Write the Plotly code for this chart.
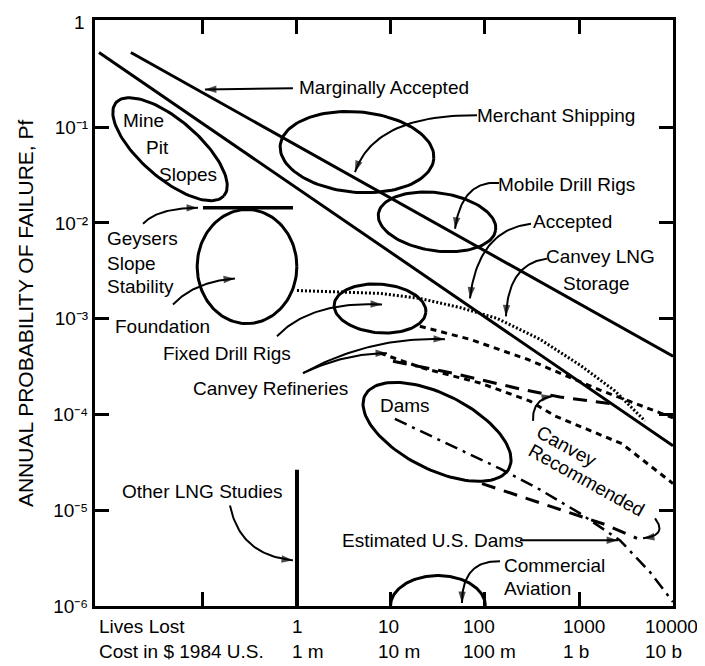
import numpy as np
import plotly.graph_objects as go

# ---------------- data (lives lost, annual probability of failure) ----------------
marginal_x = [0.0171, 10000]
marginal_y = [0.603, 4.06e-4]
accepted_x = [0.00783, 10000]
accepted_y = [0.603, 4.72e-5]
geysers_x = [0.1, 0.906]
geysers_y = [0.0144, 0.0144]
other_lng_x = [1, 1]
other_lng_y = [1e-6, 2.65e-5]
lng_storage_x = [1, 7.64, 20.3, 54.2, 134, 385, 1025, 2415, 5036]
lng_storage_y = [1.97e-3, 1.84e-3, 1.63e-3, 1.31e-3, 1.01e-3, 6.1e-4, 3.28e-4, 1.76e-4, 8.57e-5]
refineries_upper_x = [20.3, 69.2, 280, 1672, 10000]
refineries_upper_y = [8.34e-4, 6.1e-4, 3.78e-4, 1.80e-4, 9.23e-5]
refineries_lower_x = [7.64, 21.9, 88.5, 301, 556, 2866, 10000]
refineries_lower_y = [4.37e-4, 3.05e-4, 2.13e-4, 1.38e-4, 9.66e-5, 4.94e-5, 1.90e-5]
recommended_upper_x = [10.5, 50.4, 235.6, 628, 2300]
recommended_upper_y = [3.60e-4, 2.64e-4, 1.85e-4, 1.52e-4, 1.29e-4]
recommended_lower_x = [92.9, 280, 802, 1891, 4140]
recommended_lower_y = [1.90e-5, 1.33e-5, 9.49e-6, 7.11e-6, 5.09e-6]
us_dams_x = [11.0, 42.4, 144.5, 385, 1025, 2730, 5690, 10000]
us_dams_y = [8.99e-5, 4.83e-5, 2.72e-5, 1.64e-5, 9.27e-6, 4.85e-6, 2.26e-6, 1.10e-6]

# regions: centre (lives, probability), semi-axes (decades), tilt (deg), half?
region_names = ["Mine Pit Slopes", "Foundation", "Merchant Shipping", "Mobile Drill Rigs",
                "Fixed Drill Rigs", "Dams", "Commercial Aviation"]
region_cx = [0.0446, 0.294, 4.35, 30.9, 7.64, 30.9, 31.6]
region_cy = [0.0590, 3.51e-3, 0.0550, 0.01028, 1.28e-3, 6.59e-5, 1e-6]
region_a = [0.76, 0.53, 0.82, 0.63, 0.49, 0.86, 0.505]
region_b = [0.31, 0.61, 0.43, 0.31, 0.26, 0.40, 0.326]
region_angle = [-41, 0, -5, -8, -5, -27, 0]
region_half = [False, False, False, False, False, False, True]

x_tick_vals = [0.1, 1, 10, 100, 1000, 10000]
x_tick_lives = ["", "1", "10", "100", "1000", "10000"]
x_tick_cost = ["", "1 m", "10 m", "100 m", "1 b", "10 b"]
x_label_shift = [0, -7, -15, -24, -18, -30]
y_tick_vals = [1e-6, 1e-5, 1e-4, 1e-3, 1e-2, 1e-1]
y_tick_text = ["10⁻⁶", "10⁻⁵", "10⁻⁴", "10⁻³", "10⁻²", "10⁻¹"]

# ---------------- layout constants ----------------
# page body has an 8px margin, so the figure is sized/placed to compensate
W, H = 697, 658
ML, MR, MT, MB = 87, 32, 9, 60
XR = [np.log10(0.0071), 4.0]
YR = [-6.0, 0.12]
PXX = (W - ML - MR) / (XR[1] - XR[0])
PXY = (H - MT - MB) / (YR[1] - YR[0])

FN = "Liberation Sans Narrow, Arial Narrow, Liberation Sans, Arial, sans-serif"
FT = "Liberation Sans, Arial, sans-serif"
FS = 19

fig = go.Figure()


def line(x, y, width=3, dash="solid"):
    fig.add_trace(go.Scatter(x=x, y=y, mode="lines", hoverinfo="skip", showlegend=False,
                             line=dict(color="black", width=width, dash=dash)))


line(marginal_x, marginal_y, 3)
line(accepted_x, accepted_y, 3)
line(geysers_x, geysers_y, 3.5)
line(other_lng_x, other_lng_y, 4)
line(lng_storage_x, lng_storage_y, 3, "2px,2px")
line(refineries_upper_x, refineries_upper_y, 3, "6px,5px")
line(refineries_lower_x, refineries_lower_y, 3, "6px,5px")
line(recommended_upper_x, recommended_upper_y, 3, "14px,9px")
line(recommended_lower_x, recommended_lower_y, 3, "14px,9px")
line(us_dams_x, us_dams_y, 2.5, "13px,6px,3px,6px")

for cx, cy, a, b, ang, half in zip(region_cx, region_cy, region_a, region_b,
                                   region_angle, region_half):
    t = np.linspace(0, np.pi if half else 2 * np.pi, 120)
    th = np.radians(ang)
    dx = a * np.cos(t) * np.cos(th) - b * np.sin(t) * np.sin(th)
    dy = (a * np.cos(t) * np.sin(th) + b * np.sin(t) * np.cos(th)) * PXX / PXY
    line(10 ** (np.log10(cx) + dx), 10 ** (np.log10(cy) + dy), 3)

# ---------------- curved arrows (log coords: tail, control, head) ----------------
arrows = [
    ((-0.043, -0.594), (-0.5, -0.60), (-0.979, -0.605)),
    ((1.915, -0.875), (0.830, -0.865), (0.617, -1.468)),
    ((2.149, -1.582), (1.755, -1.551), (1.681, -2.060)),
    ((2.489, -2.008), (1.926, -2.071), (1.840, -2.788)),
    ((2.660, -2.372), (2.245, -2.424), (2.223, -2.975)),
    ((-1.638, -2.008), (-1.479, -1.842), (-1.053, -1.842)),
    ((-1.319, -2.850), (-1.085, -2.611), (-0.660, -2.580)),
    ((-0.213, -3.183), (0.138, -2.819), (0.904, -2.850)),
    ((0.064, -3.568), (0.511, -3.360), (0.957, -3.360)),
    ((0.064, -3.568), (0.777, -3.183), (1.574, -3.214)),
    ((-0.713, -4.950), (-0.606, -5.470), (-0.043, -5.522)),
    ((2.160, -5.532), (1.755, -5.522), (1.755, -5.969)),
    ((2.511, -4.067), (2.500, -3.838), (2.723, -3.807)),
    ((3.809, -5.085), (3.947, -5.262), (3.681, -5.293)),
    ((2.372, -5.314), (2.9, -5.314), (3.415, -5.314)),
]
for p0, p1, p2 in arrows:
    t = np.linspace(0, 1, 40)
    bx = 10 ** ((1 - t) ** 2 * p0[0] + 2 * (1 - t) * t * p1[0] + t ** 2 * p2[0])
    by = 10 ** ((1 - t) ** 2 * p0[1] + 2 * (1 - t) * t * p1[1] + t ** 2 * p2[1])
    line(bx, by, 2)
    fig.add_trace(go.Scatter(x=bx[-3:], y=by[-3:], mode="markers", hoverinfo="skip",
                             showlegend=False,
                             marker=dict(symbol="arrow", size=[0, 0, 12], color="black",
                                         angleref="previous", line=dict(width=0))))

# ---------------- labels ----------------
labels = [
    ("Marginally Accepted", 0.926, -0.584, "center", 0),
    ("Merchant Shipping", 2.755, -0.875, "center", 0),
    ("Mobile Drill Rigs", 2.862, -1.593, "center", 0),
    ("Accepted", 2.926, -1.988, "center", 0),
    ("Canvey LNG", 3.234, -2.351, "center", 0),
    ("Storage", 3.181, -2.632, "center", 0),
    ("Mine", -1.638, -0.927, "center", 0),
    ("Pit", -1.479, -1.208, "center", 0),
    ("Slopes", -1.160, -1.489, "center", 0),
    ("Geysers", -2.043, -2.164, "left", 0),
    ("Slope", -2.043, -2.424, "left", 0),
    ("Stability", -2.043, -2.663, "left", 0),
    ("Foundation", -1.426, -3.079, "center", 0),
    ("Fixed Drill Rigs", -0.745, -3.360, "center", 0),
    ("Canvey Refineries", -0.287, -3.724, "center", 0),
    ("Dams", 1.149, -3.911, "center", 0),
    ("Canvey", 2.872, -4.337, "center", 29),
    ("Recommended", 3.085, -4.690, "center", 29),
    ("Estimated U.S. Dams", 1.447, -5.314, "center", 0),
    ("Commercial", 2.181, -5.574, "left", 0),
    ("Aviation", 2.181, -5.813, "left", 0),
    ("Other LNG Studies", -1.0, -4.805, "center", 0),
]
for txt, lx, ly, anc, ang in labels:
    fig.add_annotation(x=lx, y=ly, text=txt, showarrow=False, xanchor=anc, yanchor="middle",
                       textangle=ang, font=dict(family=FN, size=FS, color="black"))

# x tick labels (two rows)
fig.add_annotation(xref="paper", yref="paper", x=0.003, y=-0.0357, text="Lives Lost",
                   showarrow=False, xanchor="left", yanchor="middle",
                   font=dict(family=FN, size=FS, color="black"))
fig.add_annotation(xref="paper", yref="paper", x=0.003, y=-0.078, text="Cost in $ 1984 U.S.",
                   showarrow=False, xanchor="left", yanchor="middle",
                   font=dict(family=FN, size=FS, color="black"))
for v, l1, l2, sh in zip(x_tick_vals, x_tick_lives, x_tick_cost, x_label_shift):
    if not l1:
        continue
    for txt, yy in ((l1, -0.0357), (l2, -0.078)):
        fig.add_annotation(xref="x", yref="paper", x=np.log10(v), y=yy, text=txt,
                           showarrow=False, xanchor="left", yanchor="middle", xshift=sh,
                           font=dict(family=FN, size=FS, color="black"))

# "1" at the top of the y axis and y title
fig.add_annotation(xref="paper", yref="paper", x=-0.014, y=0.995, text="1", showarrow=False,
                   xanchor="right", yanchor="middle", font=dict(family=FN, size=FS, color="black"))
fig.add_annotation(xref="paper", yref="paper", x=-0.121, y=0.50,
                   text="ANNUAL PROBABILITY OF FAILURE, Pf", textangle=-90, showarrow=False,
                   xanchor="center", yanchor="middle", font=dict(family=FT, size=21, color="black"))

axis_common = dict(showline=True, linewidth=3, linecolor="black", mirror="ticks",
                   ticks="inside", ticklen=14, tickwidth=2.5, tickcolor="black",
                   showgrid=False, zeroline=False)
fig.update_xaxes(type="log", range=XR, tickvals=x_tick_vals, showticklabels=False, **axis_common)
fig.update_yaxes(type="log", range=YR, tickvals=y_tick_vals, ticktext=y_tick_text,
                 tickfont=dict(family=FN, size=19, color="black"), **axis_common)

fig.update_layout(width=W, height=H, margin=dict(l=ML, r=MR, t=MT, b=MB),
                  paper_bgcolor="white", plot_bgcolor="white", showlegend=False)

fig.write_html("out.html")
